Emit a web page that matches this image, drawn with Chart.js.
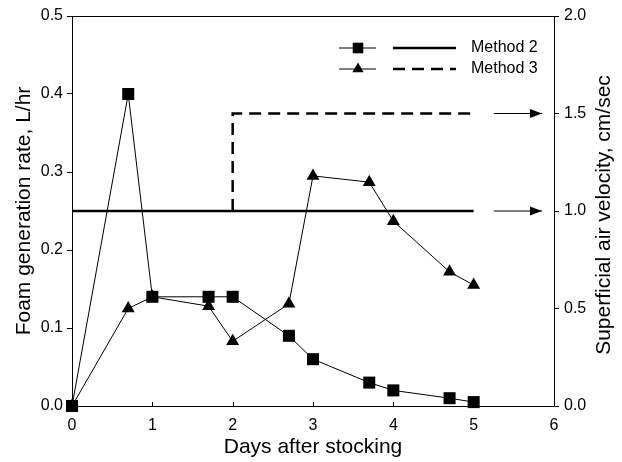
<!DOCTYPE html>
<html>
<head>
<meta charset="utf-8">
<script src="https://cdn.jsdelivr.net/npm/chart.js@4.4.1/dist/chart.umd.min.js"></script>
<style>
  html, body { margin: 0; padding: 0; background: #fff; }
</style>
</head>
<body>
<canvas id="foamChart" width="622" height="462"></canvas>
<script>
// data
var days = [0, 0.7, 1, 1.7, 2, 2.7, 3, 3.7, 4, 4.7, 5];
var foamMethod2 = [0, 0.40, 0.14, 0.14, 0.14, 0.09, 0.06, 0.03, 0.02, 0.01, 0.005];
var foamMethod3 = [0, 0.125, 0.14, 0.128, 0.083, 0.131, 0.295, 0.287, 0.237, 0.172, 0.155];

var velocityDays2 = [0, 5];
var velocity2 = [1.0, 1.0];
var velocityDays3 = [2, 2, 5];
var velocity3 = [1.0, 1.5, 1.5];

var arrowDays = [5.25, 5.85];
var arrowLevels = [1.5, 1.0];

var seriesNames = ["Method 2", "Method 3"];
var xTitle = "Days after stocking";
var leftTitle = "Foam generation rate, L/hr";
var rightTitle = "Superficial air velocity, cm/sec";

var FONT = "'Liberation Sans', Arial, Helvetica, sans-serif";

var toPoints = function(xs, ys){
	var out = [];
	for(var i=0; i<xs.length; i++){
		out.push({x: xs[i], y: ys[i]});
	}
	return out;
};

var datasets = [
	{
		label: seriesNames[0],
		data: toPoints(days, foamMethod2),
		yAxisID: 'y',
		borderColor: '#000',
		backgroundColor: '#000',
		borderWidth: 1,
		pointStyle: 'rect',
		pointRadius: 8.5,
		pointBorderWidth: 0,
		clip: false
	},
	{
		label: seriesNames[1],
		data: toPoints(days, foamMethod3),
		yAxisID: 'y',
		borderColor: '#000',
		backgroundColor: '#000',
		borderWidth: 1,
		pointStyle: 'triangle',
		pointRadius: 7.5,
		pointBorderWidth: 0,
		clip: false
	},
	{
		label: seriesNames[0] + " air",
		data: toPoints(velocityDays2, velocity2),
		yAxisID: 'y2',
		borderColor: '#000',
		borderWidth: 2.5,
		pointRadius: 0,
		clip: false
	},
	{
		label: seriesNames[1] + " air",
		data: toPoints(velocityDays3, velocity3),
		yAxisID: 'y2',
		borderColor: '#000',
		borderWidth: 2.5,
		borderDash: [12, 7],
		pointRadius: 0,
		clip: false
	}
];

// arrows pointing at the right axis
for(var a=0; a<arrowLevels.length; a++){
	datasets.push({
		label: 'arrow',
		isArrow: true,
		data: toPoints(arrowDays, [arrowLevels[a], arrowLevels[a]]),
		yAxisID: 'y2',
		borderColor: '#000',
		borderWidth: 1,
		pointRadius: 0,
		clip: false
	});
}

var figureExtras = {
	id: 'figureExtras',
	afterDatasetsDraw: function(chart){
		var ctx = chart.ctx;
		var area = chart.chartArea;
		var xs = chart.scales.x;
		ctx.save();
		ctx.strokeStyle = '#000';
		ctx.fillStyle = '#000';
		ctx.lineWidth = 1;

		// top frame
		ctx.beginPath();
		ctx.moveTo(area.left, area.top + 0.5);
		ctx.lineTo(area.right, area.top + 0.5);
		ctx.stroke();

		// inward x ticks
		xs.ticks.forEach(function(t){
			var px = Math.round(xs.getPixelForValue(t.value)) + 0.5;
			ctx.beginPath();
			ctx.moveTo(px, area.bottom);
			ctx.lineTo(px, area.bottom - 4);
			ctx.stroke();
		});

		// arrow heads
		chart.data.datasets.forEach(function(ds, i){
			if(!ds.isArrow) return;
			var pts = chart.getDatasetMeta(i).data;
			var end = pts[pts.length - 1];
			ctx.beginPath();
			ctx.moveTo(end.x, end.y);
			ctx.lineTo(end.x - 12, end.y - 4.5);
			ctx.lineTo(end.x - 12, end.y + 4.5);
			ctx.closePath();
			ctx.fill();
		});

		// right axis title, reading upwards
		ctx.save();
		ctx.translate(chart.scales.y2.right - 18, (area.top + area.bottom) / 2 + 4);
		ctx.rotate(-Math.PI / 2);
		ctx.font = "21px " + FONT;
		ctx.textAlign = 'center';
		ctx.textBaseline = 'middle';
		ctx.fillText(rightTitle, 0, 0);
		ctx.restore();

		// legend
		var rows = [
			{marker: datasets[0], line: datasets[2]},
			{marker: datasets[1], line: datasets[3]}
		];
		ctx.font = "16px " + FONT;
		ctx.textAlign = 'left';
		ctx.textBaseline = 'middle';
		rows.forEach(function(r, k){
			var y = area.top + 32 + k * 21;
			ctx.lineWidth = 1;
			ctx.setLineDash([]);
			ctx.beginPath();
			ctx.moveTo(area.right - 215, y);
			ctx.lineTo(area.right - 178, y);
			ctx.stroke();
			Chart.helpers.drawPoint(ctx, {
				pointStyle: r.marker.pointStyle,
				radius: r.marker.pointRadius - 1,
				rotation: 0,
				borderWidth: 0
			}, area.right - 196, y);
			ctx.lineWidth = r.line.borderWidth;
			ctx.setLineDash(r.line.borderDash || []);
			ctx.beginPath();
			ctx.moveTo(area.right - 161, y);
			ctx.lineTo(area.right - 98, y);
			ctx.stroke();
			ctx.setLineDash([]);
			ctx.fillText(r.marker.label, area.right - 83, y);
		});
		ctx.restore();
	}
};

var tickFont = {family: FONT, size: 16};
var titleFont = {family: FONT, size: 21};

new Chart(document.getElementById('foamChart').getContext('2d'), {
	type: 'line',
	data: {datasets: datasets},
	plugins: [figureExtras],
	options: {
		responsive: false,
		animation: false,
		devicePixelRatio: 1,
		events: [],
		layout: {padding: {top: 16, left: 0, right: 0, bottom: 0}},
		plugins: {
			legend: {display: false},
			tooltip: {enabled: false}
		},
		scales: {
			x: {
				type: 'linear',
				position: 'bottom',
				min: 0,
				max: 6,
				ticks: {stepSize: 1, color: '#000', font: tickFont, padding: 2},
				grid: {display: false},
				border: {display: true, color: '#000', width: 1},
				title: {display: true, text: xTitle, color: '#000', font: titleFont, padding: {top: 0, bottom: 2}},
				afterFit: function(scale){ scale.height = 56; }
			},
			y: {
				type: 'linear',
				position: 'left',
				min: 0,
				max: 0.5,
				ticks: {
					stepSize: 0.1,
					color: '#000',
					font: tickFont,
					padding: 4,
					callback: function(v){ return v.toFixed(1); }
				},
				grid: {drawOnChartArea: false, drawTicks: true, tickLength: 5, color: '#000'},
				border: {display: true, color: '#000', width: 1},
				title: {display: true, text: leftTitle, color: '#000', font: titleFont, padding: {top: 12, bottom: 0}},
				afterFit: function(scale){ scale.width = 72; }
			},
			y2: {
				type: 'linear',
				position: 'right',
				min: 0,
				max: 2,
				ticks: {
					stepSize: 0.5,
					color: '#000',
					font: tickFont,
					padding: 5,
					callback: function(v){ return v.toFixed(1); }
				},
				grid: {drawOnChartArea: false, drawTicks: true, tickLength: 5, color: '#000'},
				border: {display: true, color: '#000', width: 1},
				afterFit: function(scale){ scale.width = 68; }
			}
		}
	}
});
</script>
</body>
</html>
